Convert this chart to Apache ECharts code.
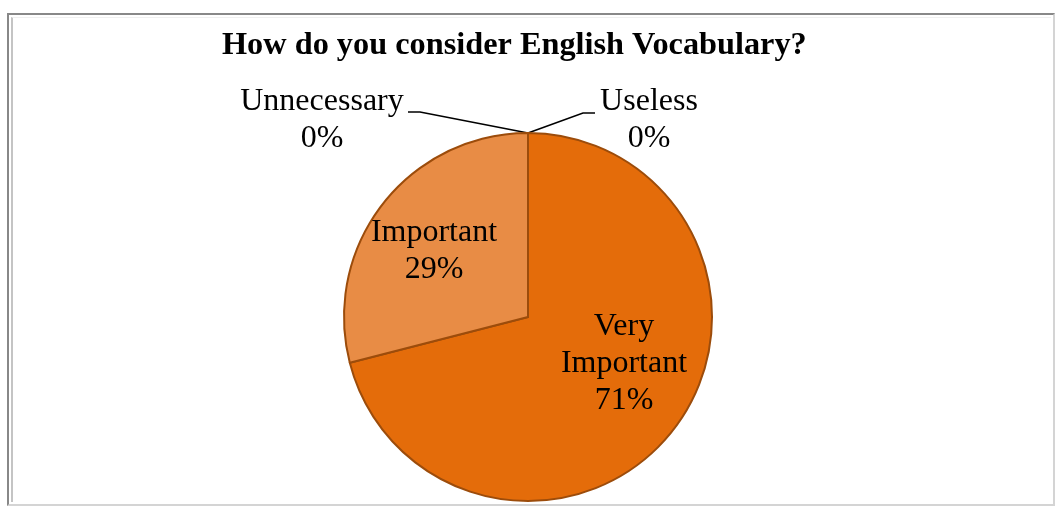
<!DOCTYPE html>
<html>
<head>
<meta charset="utf-8">
<script src="https://cdn.jsdelivr.net/npm/echarts@6/dist/echarts.min.js"></script>
<style>
  html, body { margin: 0; padding: 0; background: #fff; }
  body { width: 1055px; height: 506px; position: relative; overflow: hidden; }
  .frame-outer {
    position: absolute; left: 7px; top: 13px; width: 1044px; height: 489px;
    border-top: 2px solid #888; border-left: 2px solid #888;
    border-right: 2px solid #d4d4d4; border-bottom: 2px solid #d4d4d4;
  }
  .frame-inner {
    position: absolute; left: 11px; top: 17px; width: 1038px; height: 484px;
    border-left: 2px solid #c4c4c4; border-top: 1px solid #f0f0f0;
  }
  #chart { position: absolute; left: 0; top: 0; width: 1055px; height: 506px; }
</style>
</head>
<body>
<div class="frame-outer"></div>
<div class="frame-inner"></div>
<div id="chart"></div>
<script>
const titleText = 'How do you consider English Vocabulary?';
const categories = ['Very Important', 'Important', 'Unnecessary', 'Useless'];
const values = [71, 29, 0, 0];
const sliceColors = ['#E46C0A', '#E88C45', '#E46C0A', '#E46C0A'];

const CENTER = [528, 317];
const RADIUS = 184;
const SERIF = '"Liberation Serif", "Times New Roman", serif';

// Label anchor centres (x, y) and leader lines for the zero-value slices
const labelSpots = {
  'Very Important': { x: 624, y: 364 },
  'Important': { x: 434, y: 251 },
  'Unnecessary': { x: 322, y: 120, line: [[408, 112], [420, 112]] },
  'Useless': { x: 649, y: 120, line: [[595, 113], [583, 113]] }
};

const chart = echarts.init(document.getElementById('chart'), null, { renderer: 'canvas' });

const pieData = categories.map((name, i) => ({
  name,
  value: values[i],
  itemStyle: { color: sliceColors[i] },
  label: { position: values[i] > 0 ? 'inside' : 'outside' },
  labelLine: { show: values[i] === 0 }
}));

chart.setOption({
  animation: false,
  backgroundColor: 'transparent',
  title: {
    text: titleText,
    left: 217,
    top: 22,
    textStyle: {
      fontFamily: SERIF,
      fontWeight: 'bold',
      fontSize: 32.3,
      lineHeight: 38,
      color: '#000'
    }
  },
  series: [{
    type: 'pie',
    center: CENTER,
    radius: RADIUS,
    startAngle: 90,
    clockwise: true,
    minShowLabelAngle: 0,
    avoidLabelOverlap: false,
    itemStyle: { borderColor: '#9C4C0B', borderWidth: 2 },
    label: {
      show: true,
      formatter: (p) => p.name.replace(' ', '\n') + '\n' + Math.round(p.percent) + '%',
      fontFamily: SERIF,
      fontSize: 32,
      lineHeight: 37,
      color: '#000',
      align: 'center'
    },
    labelLine: {
      lineStyle: { color: '#000', width: 1.6 }
    },
    emphasis: { disabled: true },
    labelLayout: (params) => {
      const name = categories[params.dataIndex];
      const spot = labelSpots[name];
      const res = { x: spot.x, y: spot.y, align: 'center', verticalAlign: 'middle' };
      if (spot.line) {
        const top = [CENTER[0], CENTER[1] - RADIUS];
        res.labelLinePoints = [spot.line[0], spot.line[1], top];
      }
      return res;
    },
    data: pieData
  }]
});
</script>
</body>
</html>
